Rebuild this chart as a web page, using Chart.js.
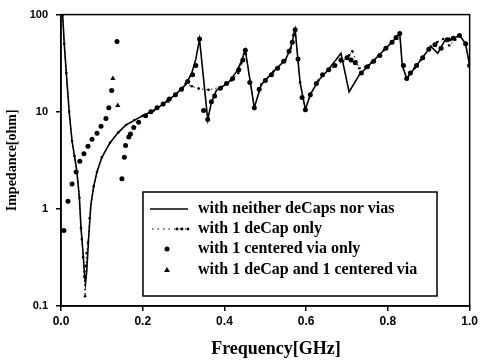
<!DOCTYPE html>
<html>
<head>
<meta charset="utf-8">
<script src="https://cdn.jsdelivr.net/npm/chart.js@4.4.0/dist/chart.umd.min.js"></script>
<style>
  html, body { margin: 0; padding: 0; background: #fff; }
</style>
</head>
<body>
<canvas id="chart" width="481" height="363"></canvas>
<script>
const seriesNames = [
    'with neither deCaps nor vias',
    'with 1 deCap only',
    'with 1 centered via only',
    'with 1 deCap and 1 centered via'
];

const xTitle = 'Frequency[GHz]';
const xTicks = [0, 0.2, 0.4, 0.6, 0.8, 1.0];
const yTicks = [0.1, 1, 10, 100];

// neither deCaps nor vias (solid line)
const freqNeither = [0.002, 0.004, 0.008, 0.013, 0.02, 0.027, 0.033, 0.039, 0.045, 0.049, 0.054, 0.058, 0.06, 0.063, 0.067, 0.073, 0.08, 0.088, 0.1, 0.12, 0.14, 0.159, 0.18, 0.2, 0.227, 0.25, 0.28, 0.305, 0.32, 0.33, 0.339, 0.359, 0.368, 0.38, 0.41, 0.43, 0.44, 0.451, 0.473, 0.49, 0.52, 0.549, 0.562, 0.573, 0.585, 0.598, 0.61, 0.63, 0.654, 0.685, 0.705, 0.73, 0.76, 0.79, 0.81, 0.829, 0.835, 0.846, 0.865, 0.88, 0.905, 0.922, 0.939, 0.96, 0.976, 0.99, 1.0];
const zNeither = [150, 100, 50, 25, 10, 5, 3.5, 2.4, 1.3, 0.63, 0.35, 0.2, 0.17, 0.23, 0.45, 1.1, 1.7, 2.4, 3.4, 4.8, 6.1, 7.3, 8.2, 9.1, 10.3, 12, 15, 19, 25, 35, 56, 8.3, 12.4, 16.5, 20, 26, 32, 43, 11, 19, 26, 34, 45, 70, 20, 10.5, 15, 21, 27, 40, 16, 24, 32, 43, 52, 64, 30, 22, 28, 34, 47, 40, 54, 57, 61, 50, 30];

// 1 deCap only (dotted)
const freqDecap = [0.002, 0.004, 0.008, 0.013, 0.02, 0.027, 0.033, 0.039, 0.045, 0.049, 0.051, 0.054, 0.057, 0.059, 0.061, 0.063, 0.066, 0.07, 0.08, 0.088, 0.1, 0.12, 0.14, 0.159, 0.18, 0.2, 0.227, 0.25, 0.28, 0.305, 0.32, 0.337, 0.361, 0.393, 0.417, 0.434, 0.441, 0.451, 0.473, 0.49, 0.52, 0.549, 0.562, 0.573, 0.585, 0.598, 0.61, 0.63, 0.654, 0.69, 0.705, 0.713, 0.722, 0.73, 0.745, 0.76, 0.79, 0.81, 0.829, 0.835, 0.846, 0.865, 0.88, 0.905, 0.92, 0.935, 0.95, 0.965, 0.976, 0.99, 1.0];
const zDecap = [150, 100, 50, 25, 10, 5, 3.5, 2.4, 1.3, 0.63, 0.49, 0.32, 0.2, 0.126, 0.26, 0.35, 0.45, 0.8, 1.7, 2.4, 3.4, 4.8, 6.1, 7.3, 8.2, 9.1, 10.3, 12, 15, 19.5, 18.3, 17.3, 16.8, 18, 21, 25, 31.5, 43, 11, 19, 26, 34, 45, 70, 20, 10.5, 15, 21, 27, 33, 38, 42, 33, 28, 29, 32, 43, 52, 64, 30, 22, 28, 34, 47, 52, 56, 48, 55, 61, 50, 30];

// 1 centered via only (circles)
const freqVia = [0.007, 0.017, 0.027, 0.037, 0.046, 0.056, 0.066, 0.076, 0.088, 0.098, 0.11, 0.117, 0.124, 0.137, 0.149, 0.155, 0.158, 0.166, 0.17, 0.178, 0.19, 0.207, 0.22, 0.235, 0.25, 0.265, 0.28, 0.295, 0.31, 0.322, 0.33, 0.339, 0.349, 0.359, 0.368, 0.376, 0.39, 0.405, 0.42, 0.435, 0.445, 0.451, 0.462, 0.473, 0.485, 0.5, 0.515, 0.53, 0.545, 0.558, 0.566, 0.573, 0.58, 0.59, 0.598, 0.61, 0.625, 0.64, 0.655, 0.67, 0.685, 0.7, 0.71, 0.72, 0.735, 0.75, 0.765, 0.78, 0.795, 0.81, 0.82, 0.829, 0.838, 0.846, 0.855, 0.87, 0.885, 0.9, 0.915, 0.93, 0.945, 0.96, 0.975, 0.99, 1.0];
const zVia = [0.6, 1.2, 1.8, 2.4, 3.1, 3.7, 4.4, 5.2, 6, 7.1, 8.5, 11, 16.5, 53, 2.04, 3.4, 4.5, 5.5, 5.9, 6.9, 7.8, 9.1, 10, 11, 12, 13.5, 15, 17, 20.5, 24, 30, 56, 10.3, 8.3, 12.7, 14.5, 17.5, 19.5, 22, 27, 34, 43, 20, 11, 17, 21, 24, 28, 33, 42, 52, 70, 35, 14, 10.5, 15, 19.5, 24, 27, 30, 34, 36, 34, 32, 25, 29, 33, 38, 45, 52, 58, 64, 30, 22, 25, 30, 36, 44, 49, 45, 55, 57, 61, 50, 30];

// 1 deCap and 1 centered via (triangles)
const freqBoth = [0.127, 0.139, 0.26, 0.32, 0.45, 0.57, 0.7, 0.82, 0.95];
const zBoth = [22, 11.6, 12.8, 24, 40, 62, 36, 57, 55];

function pairs(xs, ys) {
    return xs.map((x, i) => ({ x: x, y: ys[i] }));
}

const legendBox = {
    id: 'legendBox',
    afterDraw(chart) {
        const ctx = chart.ctx;
        const a = chart.chartArea;
        ctx.save();
        // frame around the plot
        ctx.strokeStyle = '#000';
        ctx.lineWidth = 1.5;
        ctx.strokeRect(a.left, a.top, a.right - a.left, a.bottom - a.top);

        // x axis title, sits a bit right of the plot centre in the original
        ctx.fillStyle = '#000';
        ctx.font = 'bold 18px "Liberation Serif"';
        ctx.textAlign = 'center';
        ctx.textBaseline = 'middle';
        ctx.fillText(xTitle, 276, 349);

        // legend
        ctx.fillStyle = '#fff';
        ctx.fillRect(143, 192, 294, 104);
        ctx.strokeRect(143, 192, 294, 104);

        const rows = [209, 229, 249, 270];
        ctx.fillStyle = '#000';
        ctx.font = 'bold 16px "Liberation Serif"';
        ctx.textAlign = 'left';
        seriesNames.forEach((name, i) => ctx.fillText(name, 198, rows[i]));

        ctx.lineWidth = 1.6;
        ctx.beginPath();
        ctx.moveTo(150, rows[0]);
        ctx.lineTo(188, rows[0]);
        ctx.stroke();

        ctx.lineWidth = 1;
        ctx.setLineDash([1.5, 4]);
        ctx.beginPath();
        ctx.moveTo(152, rows[1]);
        ctx.lineTo(190, rows[1]);
        ctx.stroke();
        ctx.setLineDash([]);
        [177, 182, 188].forEach(x => {
            ctx.beginPath();
            ctx.arc(x, rows[1], 1.4, 0, Math.PI * 2);
            ctx.fill();
        });

        ctx.beginPath();
        ctx.arc(167, rows[2], 2.5, 0, Math.PI * 2);
        ctx.fill();

        ctx.beginPath();
        ctx.moveTo(167, rows[3] - 3);
        ctx.lineTo(170, rows[3] + 2);
        ctx.lineTo(164, rows[3] + 2);
        ctx.closePath();
        ctx.fill();
        ctx.restore();
    }
};

new Chart(document.getElementById('chart'), {
    type: 'scatter',
    data: {
        datasets: [{
            label: seriesNames[0],
            data: pairs(freqNeither, zNeither),
            showLine: true,
            borderColor: '#000',
            borderWidth: 1.6,
            pointRadius: 0,
            tension: 0
        }, {
            label: seriesNames[1],
            data: pairs(freqDecap, zDecap),
            showLine: true,
            borderColor: '#000',
            backgroundColor: '#000',
            borderWidth: 1,
            borderDash: [1.5, 3],
            pointRadius: 1.3,
            pointBorderWidth: 0,
            tension: 0
        }, {
            label: seriesNames[2],
            data: pairs(freqVia, zVia),
            showLine: false,
            backgroundColor: '#000',
            borderColor: '#000',
            pointStyle: 'circle',
            pointRadius: 2.5,
            pointBorderWidth: 0
        }, {
            label: seriesNames[3],
            data: pairs(freqBoth, zBoth),
            showLine: false,
            backgroundColor: '#000',
            borderColor: '#000',
            pointStyle: 'triangle',
            pointRadius: 3,
            pointBorderWidth: 0
        }]
    },
    options: {
        responsive: false,
        animation: false,
        layout: { padding: { top: 11, right: 11, left: 0, bottom: 0 } },
        plugins: {
            legend: { display: false },
            tooltip: { enabled: false }
        },
        scales: {
            x: {
                type: 'linear',
                min: 0,
                max: 1,
                afterFit: (scale) => { scale.height = 57; },
                afterBuildTicks: (scale) => { scale.ticks = xTicks.map(v => ({ value: v })); },
                ticks: {
                    color: '#000',
                    padding: 3,
                    font: { family: '"Liberation Sans"', size: 12, weight: 'bold' },
                    callback: (v) => v.toFixed(1)
                },
                grid: { drawOnChartArea: false, drawTicks: true, tickLength: 5, color: '#000', lineWidth: 1.5 },
                border: { display: true, color: '#000', width: 1.5 }
            },
            y: {
                type: 'logarithmic',
                min: 0.1,
                max: 100,
                afterFit: (scale) => { scale.width = 61; },
                afterBuildTicks: (scale) => { scale.ticks = yTicks.map(v => ({ value: v })); },
                ticks: {
                    color: '#000',
                    padding: 8,
                    font: { family: '"Liberation Sans"', size: 11, weight: 'bold' },
                    callback: (v) => String(v)
                },
                grid: { drawOnChartArea: false, drawTicks: true, tickLength: 5, color: '#000', lineWidth: 1.5 },
                border: { display: true, color: '#000', width: 1.5 },
                title: {
                    display: true,
                    text: 'Impedance[ohm]',
                    color: '#000',
                    font: { family: '"Liberation Serif"', size: 14, weight: 'bold' },
                    padding: { top: 4, bottom: 0 }
                }
            }
        }
    },
    plugins: [legendBox]
});
</script>
</body>
</html>
